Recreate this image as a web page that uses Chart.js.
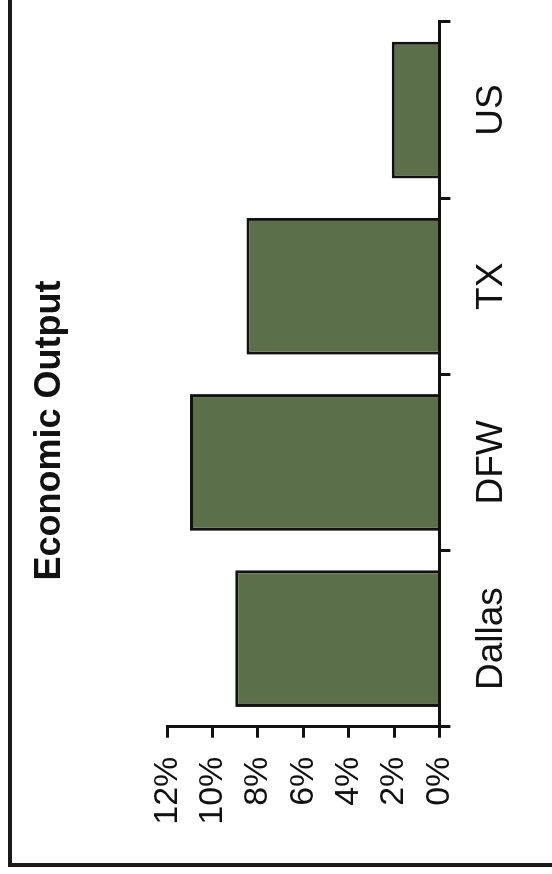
<!DOCTYPE html>
<html>
<head>
<meta charset="utf-8">
<script src="https://cdn.jsdelivr.net/npm/chart.js@4.4.1/dist/chart.umd.min.js"></script>
<style>
  html, body { margin: 0; padding: 0; background: #fff; overflow: hidden; }
  body { width: 552px; height: 874px; position: relative; }
  #wrap {
    position: absolute; left: 0; top: 0;
    width: 874px; height: 552px;
    transform-origin: 0 0;
    transform: translateY(874px) rotate(-90deg);
    background: #fff;
  }
  #frame {
    position: absolute; left: 7px; top: 8px; right: -10px; bottom: -10px;
    border-left: 4px solid #1a1a1a; border-top: 4px solid #1a1a1a;
    pointer-events: none;
  }
  canvas { position: absolute; left: 0; top: 0; }
</style>
</head>
<body>
<div id="wrap">
  <canvas id="c" width="874" height="552"></canvas>
  <div id="frame"></div>
</div>
<script>
// Data
const categories = ["Dallas", "DFW", "TX", "US"];
const outputGrowth = [9.0, 11.0, 8.5, 2.1];
const valueTicks = [0, 2, 4, 6, 8, 10, 12];
const chartTitle = "Economic Output";

const FONT = "'Liberation Sans', Arial, Helvetica, sans-serif";

new Chart(document.getElementById('c'), {
  type: 'bar',
  data: {
    labels: categories,
    datasets: [{
      data: outputGrowth,
      backgroundColor: '#5b6f4a',
      borderColor: '#111111',
      borderWidth: 3,
      categoryPercentage: 1.0,
      barPercentage: 0.776
    }]
  },
  options: {
    responsive: false,
    animation: false,
    devicePixelRatio: 1,
    layout: { padding: { left: 35, right: 22, top: 0, bottom: 0 } },
    plugins: {
      legend: { display: false },
      tooltip: { enabled: false },
      title: {
        display: true,
        text: chartTitle,
        color: '#111',
        font: { family: FONT, size: 36, weight: 'bold', lineHeight: 1.2 },
        padding: { top: 28, bottom: 96 }
      }
    },
    scales: {
      x: {
        offset: true,
        grid: {
          display: true, offset: true, drawOnChartArea: false, drawTicks: true,
          tickLength: 11, color: '#111', lineWidth: 3
        },
        border: { display: true, color: '#111', width: 3 },
        ticks: { color: '#111', padding: 19, font: { family: FONT, size: 37, lineHeight: 1.2 }, maxRotation: 0 },
        afterFit: (s) => { s.height = 112.6; }
      },
      y: {
        min: valueTicks[0],
        max: valueTicks[valueTicks.length - 1],
        afterBuildTicks: (s) => { s.ticks = valueTicks.map(v => ({ value: v })); },
        grid: {
          display: true, drawOnChartArea: false, drawTicks: true,
          tickLength: 11, color: '#111', lineWidth: 3
        },
        border: { display: true, color: '#111', width: 3 },
        ticks: {
          color: '#111', padding: 19,
          font: { family: FONT, size: 34, lineHeight: 1.2 },
          callback: (v) => v + '%'
        },
        afterFit: (s) => { s.width = 112.3; }
      }
    }
  }
});
</script>
</body>
</html>
